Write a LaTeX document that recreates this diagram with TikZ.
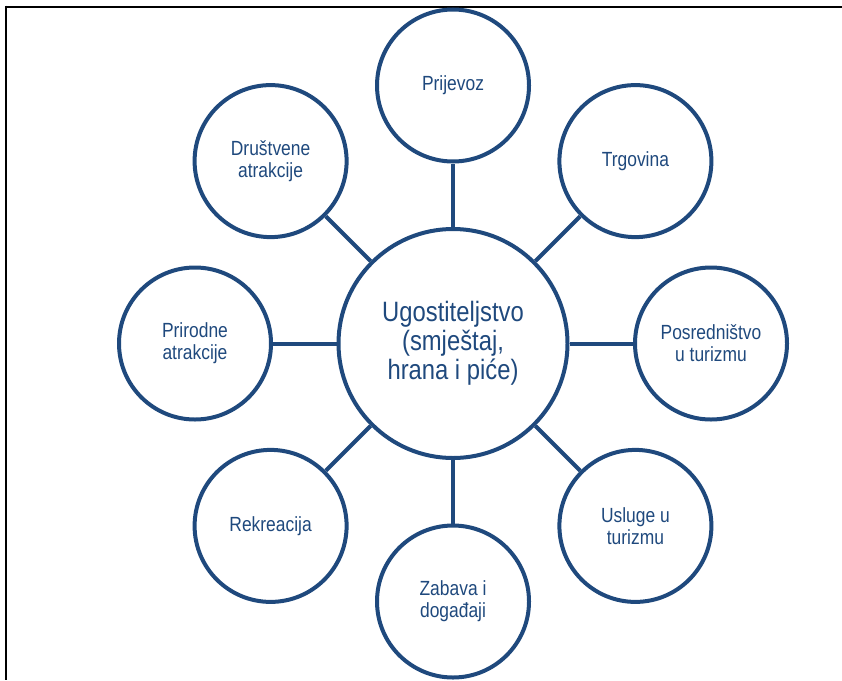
\documentclass[tikz,border=0pt]{standalone}
\usepackage{fontspec}
\setmainfont{Liberation Sans}
\newfontfamily\labfont[FakeStretch=0.85]{Liberation Sans}
\definecolor{navy}{HTML}{1F497D}
\begin{document}
\begin{tikzpicture}[x=1pt,y=-1pt,
  hub/.style={circle,draw=navy,line width=4pt,minimum size=229pt,inner sep=0pt,align=center,text=navy,font=\labfont\fontsize{28}{29}\selectfont},
  sat/.style={circle,draw=navy,line width=4pt,minimum size=152pt,inner sep=0pt,align=center,text=navy,font=\labfont\fontsize{20.5}{22}\selectfont},
  link/.style={draw=navy,line width=4pt},
  frameline/.style={draw=black,line width=2pt}]
\useasboundingbox (0,0) rectangle (842,680);
\coordinate (fl) at (6,5.5);
\coordinate (fr) at (842,6.5);
\coordinate (fb) at (6,680);
\draw[frameline] (fl |- fr) -- (fr);
\draw[frameline] (fl) -- (fb);
\node[hub] (hub) at (453,343.5) {Ugostiteljstvo\\(smještaj,\\hrana i piće)};
\node[sat] (n) at (453,85.5) {Prijevoz};
\node[sat] (ne) at (635.4,161.1) {Trgovina};
\node[sat] (e) at (711,343.5) {Posredništvo\\u turizmu};
\node[sat] (se) at (635.4,525.9) {Usluge u\\turizmu};
\node[sat] (s) at (453,601.5) {Zabava i\\događaji};
\node[sat] (sw) at (270.6,525.9) {Rekreacija};
\node[sat] (w) at (195,343.5) {Prirodne\\atrakcije};
\node[sat] (nw) at (270.6,161.1) {Društvene\\atrakcije};
\foreach \t in {n,ne,e,se,s,sw,w,nw}
  \draw[link] (hub) -- (\t);
\end{tikzpicture}
\end{document}
